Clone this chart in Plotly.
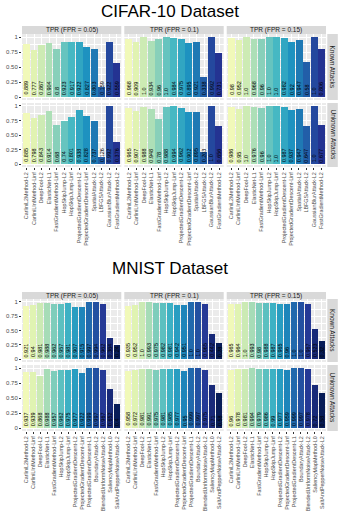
import plotly.graph_objects as go
import plotly.colors as pc
import numpy as np

cifar_attacks = ["CarliniL2Method-L2", "CarliniLInfMethod-Linf", "DeepFool-L2", "ElasticNet-L1",
                 "FastGradientMethod-Linf", "HopSkipJump-L2", "HopSkipJump-Linf",
                 "ProjectedGradientDescent-L2", "ProjectedGradientDescent-Linf", "SpatialAttack-L2",
                 "LBFGSAttack-L2", "GaussianBlurAttack-L2", "FastGradientMethod-L2"]
mnist_attacks = ["CarliniL2Method-L2", "CarliniLInfMethod-Linf", "DeepFool-L2", "ElasticNet-L1",
                 "FastGradientMethod-Linf", "HopSkipJump-L2", "HopSkipJump-Linf",
                 "ProjectedGradientDescent-L2", "ProjectedGradientDescent-Linf",
                 "ProjectedGradientDescent-L1", "BoundaryAttack-L2", "BlendedUniformNoiseAttack-L2",
                 "SaliencyMapMethod-L0", "SaltAndPepperNoiseAttack-L2"]
fpr_labels = ["TPR (FPR = 0.05)", "TPR (FPR = 0.1)", "TPR (FPR = 0.15)"]
row_labels = ["Known Attacks", "Unknown Attacks"]
y_tickvals = [0, 0.25, 0.5, 0.75, 1]
y_ticktext = ["0", "0.25", "0.50", "0.75", "1"]

cifar_known_005 = [0.889, 0.777, 0.867, 0.904, 0.8, 0.923, 0.917, 0.922, 0.827, 0.803, 0.159, 0.922, 0.559]
cifar_known_010 = [0.968, 0.909, 1.0, 0.934, 0.96, 1.0, 0.984, 0.975, 0.895, 0.921, 0.338, 0.992, 0.731]
cifar_known_015 = [0.98, 0.952, 1.0, 0.968, 0.96, 1.0, 1.0, 0.982, 0.92, 0.947, 0.58, 1.0, 0.806]
cifar_unknown_005 = [0.885, 0.798, 0.843, 0.914, 0.68, 0.74, 0.801, 0.938, 0.828, 0.737, 0.126, 0.992, 0.376]
cifar_unknown_010 = [0.965, 0.907, 0.988, 0.948, 0.78, 0.988, 0.994, 0.962, 0.902, 0.895, 0.203, 1.0, 0.656]
cifar_unknown_015 = [0.986, 0.95, 1.0, 0.976, 0.96, 1.0, 1.0, 0.987, 0.937, 0.947, 0.647, 1.0, 0.677]

mnist_known_005 = [0.921, 0.94, 0.981, 0.988, 0.962, 0.957, 0.981, 0.907, 0.915, 0.997, 0.994, 0.962, 0.364, 0.24]
mnist_known_010 = [0.935, 0.952, 1.0, 0.993, 0.975, 0.982, 0.981, 0.942, 0.951, 1.0, 1.0, 0.965, 0.442, 0.28]
mnist_known_015 = [0.965, 0.964, 1.0, 0.993, 0.98, 0.988, 0.987, 0.965, 0.96, 1.0, 1.0, 0.967, 0.523, 0.32]
mnist_unknown_005 = [0.937, 0.939, 0.868, 0.988, 0.957, 0.962, 0.975, 0.977, 0.922, 0.999, 0.997, 0.967, 0.652, 0.4]
mnist_unknown_010 = [0.958, 0.972, 0.981, 0.991, 0.975, 0.981, 0.985, 0.977, 0.95, 0.999, 0.997, 0.975, 0.71, 0.58]
mnist_unknown_015 = [0.96, 0.978, 0.981, 0.994, 0.979, 0.986, 0.99, 0.977, 0.959, 0.999, 0.997, 0.978, 0.72, 0.58]

W, H = 340, 517
FONT = "Liberation Sans, Arial, sans-serif"
ylgnbu = pc.sequential.YlGnBu

fig = go.Figure()
layout = {}
shapes = []
annotations = []
counter = [0]

col_px = [(22, 121.3), (124.3, 223.7), (226.7, 326)]
strip_x = (327.3, 337.8)


def py(v):
    return 1 - v / H


def px_(v):
    return v / W


def add_group(title, title_y, attacks, grid, colors, strip_px, rows_px):
    n = len(attacks)
    annotations.append(dict(text=title, x=0.5, y=py(title_y), xref="paper", yref="paper",
                            xanchor="center", yanchor="middle", showarrow=False,
                            font=dict(size=17, color="#000000", family=FONT)))
    for c, lab in enumerate(fpr_labels):
        x0, x1 = col_px[c]
        shapes.append(dict(type="rect", xref="paper", yref="paper", x0=px_(x0), x1=px_(x1),
                           y0=py(strip_px[1]), y1=py(strip_px[0]), fillcolor="#d9d9d9",
                           line=dict(width=0), layer="below"))
        annotations.append(dict(text=lab, x=px_((x0 + x1) / 2), y=py((strip_px[0] + strip_px[1]) / 2),
                                xref="paper", yref="paper", xanchor="center", yanchor="middle",
                                showarrow=False, borderpad=0,
                                font=dict(size=6.5, color="#1a1a1a", family=FONT)))
    for r, (t, b) in enumerate(rows_px):
        shapes.append(dict(type="rect", xref="paper", yref="paper", x0=px_(strip_x[0]), x1=px_(strip_x[1]),
                           y0=py(b), y1=py(t), fillcolor="#d9d9d9", line=dict(width=0), layer="below"))
        annotations.append(dict(text=row_labels[r], x=px_((strip_x[0] + strip_x[1]) / 2), y=py((t + b) / 2),
                                xref="paper", yref="paper", xanchor="center", yanchor="middle",
                                textangle=90, showarrow=False, borderpad=0,
                                font=dict(size=6.5, color="#1a1a1a", family=FONT)))
        for c in range(3):
            counter[0] += 1
            k = counter[0]
            sfx = "" if k == 1 else str(k)
            vals = grid[r][c]
            xs = list(range(1, n + 1))
            fig.add_trace(go.Bar(x=xs, y=vals, marker=dict(color=colors, line=dict(width=0)),
                                 width=0.9, xaxis="x" + sfx, yaxis="y" + sfx, showlegend=False,
                                 hoverinfo="x+y"))
            x0, x1 = col_px[c]
            bottom_row = (r == len(rows_px) - 1)
            layout["xaxis" + sfx] = dict(
                domain=[px_(x0), px_(x1)], anchor="y" + sfx, range=[0.4, n + 0.6],
                tickmode="array", tickvals=xs, ticktext=attacks if bottom_row else [""] * n,
                showticklabels=bottom_row, tickangle=-90,
                tickfont=dict(size=5.4, color="#4d4d4d", family=FONT),
                ticks="outside" if bottom_row else "", ticklen=2, tickwidth=0.6, tickcolor="#333333",
                showgrid=True, gridcolor="#ffffff", gridwidth=0.9, zeroline=False, showline=False,
                fixedrange=True)
            layout["yaxis" + sfx] = dict(
                domain=[py(b), py(t)], anchor="x" + sfx, range=[-0.05, 1.05],
                tickmode="array", tickvals=y_tickvals, ticktext=y_ticktext,
                showticklabels=(c == 0), ticks="outside" if c == 0 else "", ticklen=2, tickwidth=0.6,
                tickcolor="#333333", tickfont=dict(size=6, color="#4d4d4d", family=FONT),
                showgrid=True, gridcolor="#ffffff", gridwidth=0.9, zeroline=False, showline=False,
                minor=dict(tickvals=[0.125, 0.375, 0.625, 0.875], showgrid=True,
                           gridcolor="#ffffff", gridwidth=0.4, ticks=""),
                fixedrange=True)
            for i, v in enumerate(vals):
                annotations.append(dict(text=str(v), x=i + 1, y=0.015, xref="x" + sfx, yref="y" + sfx,
                                        xanchor="center", yanchor="bottom", textangle=-90,
                                        showarrow=False, borderpad=0,
                                        font=dict(size=5.5, color="#000000", family=FONT)))


cifar_colors = pc.sample_colorscale(ylgnbu, list(np.linspace(0.1, 0.88, len(cifar_attacks))))
mnist_colors = pc.sample_colorscale(ylgnbu, list(np.linspace(0.1, 1.0, len(mnist_attacks))))

add_group("CIFAR-10 Dataset", 12, cifar_attacks,
          [[cifar_known_005, cifar_known_010, cifar_known_015],
           [cifar_unknown_005, cifar_unknown_010, cifar_unknown_015]],
          cifar_colors, (26, 34), [(34, 100), (103, 167)])
add_group("MNIST Dataset", 268, mnist_attacks,
          [[mnist_known_005, mnist_known_010, mnist_known_015],
           [mnist_unknown_005, mnist_unknown_010, mnist_unknown_015]],
          mnist_colors, (292, 299), [(299, 362), (365, 431)])

fig.update_layout(width=W, height=H, margin=dict(l=0, r=0, t=0, b=0),
                  paper_bgcolor="#ffffff", plot_bgcolor="#ebebeb", bargap=0,
                  shapes=shapes, annotations=annotations, font=dict(family=FONT),
                  **layout)
fig.write_html("out.html", config={"displayModeBar": False},
               post_script="document.body.style.margin='0px';document.body.style.overflow='hidden';")
